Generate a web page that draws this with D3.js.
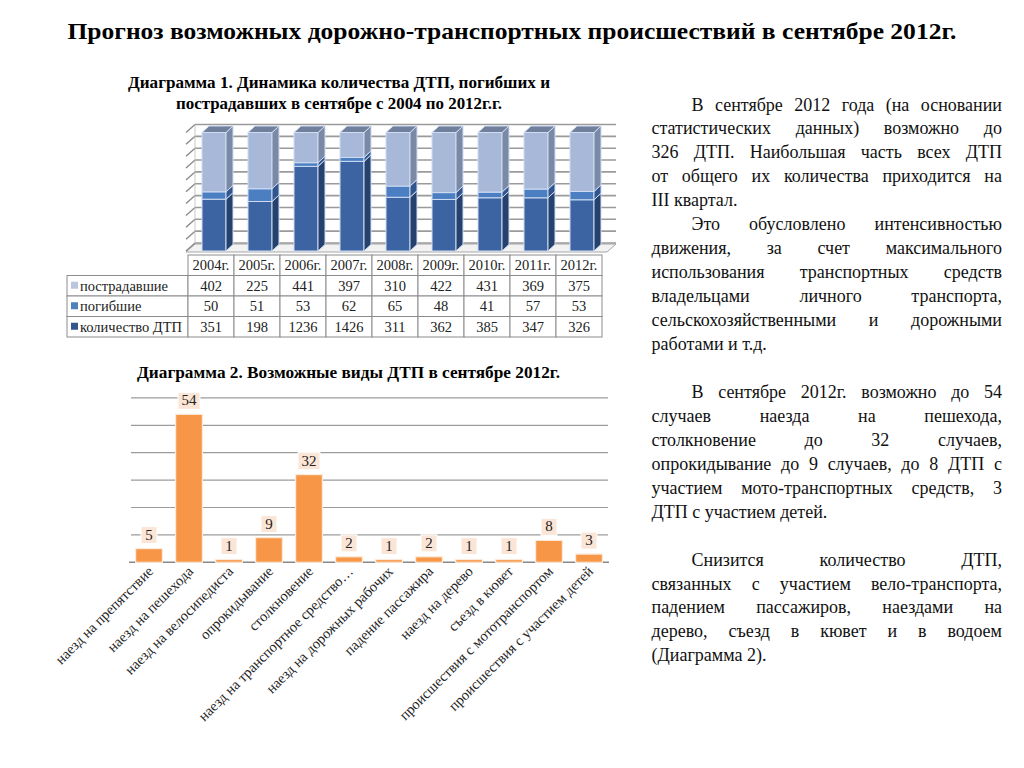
<!DOCTYPE html>
<html><head><meta charset="utf-8">
<script src="https://cdn.jsdelivr.net/npm/d3@7"></script>
</head><body style="margin:0;background:#fff">
<svg id="c" width="1024" height="768" style="display:block"></svg>
<script>
// ---------- data ----------
const mainTitle = "Прогноз возможных дорожно-транспортных происшествий в сентябре 2012г.";
const chart1Title = ["Диаграмма 1. Динамика количества  ДТП, погибших и", "пострадавших в сентябре с 2004 по 2012г.г."];
const years = ["2004г.","2005г.","2006г.","2007г.","2008г.","2009г.","2010г.","2011г.","2012г."];
const injured = [402,225,441,397,310,422,431,369,375];
const killed = [50,51,53,62,65,48,41,57,53];
const accidents = [351,198,1236,1426,311,362,385,347,326];
const seriesNames = ["пострадавшие","погибшие","количество ДТП"];

const chart2Title = "Диаграмма 2.  Возможные виды ДТП в сентябре 2012г.";
const types = ["наезд на препятствие","наезд на пешехода","наезд на велосипедиста","опрокидывание","столкновение","наезд на транспортное средство…","наезд на дорожных рабочих","падение пассажира","наезд на дерево","съезд в кювет","происшествия с мототранспортом","происшествия с участием детей"];
const typeValues = [5,54,1,9,32,2,1,2,1,1,8,3];
const yTicks2 = [0,10,20,30,40,50,60];

const paragraphs = [
  ["В сентябре 2012 года (на основании","статистических данных) возможно до","326 ДТП. Наибольшая часть всех ДТП","от общего их количества приходится на","III квартал."],
  ["Это обусловлено интенсивностью","движения, за счет максимального","использования транспортных средств","владельцами личного транспорта,","сельскохозяйственными и дорожными","работами и т.д."],
  null,
  ["В сентябре 2012г. возможно до 54","случаев наезда на пешехода,","столкновение до 32 случаев,","опрокидывание до 9 случаев, до 8 ДТП с","участием мото-транспортных средств, 3","ДТП с участием детей."],
  null,
  ["Снизится количество ДТП,","связанных с участием вело-транспорта,","падением пассажиров, наездами на","дерево, съезд в кювет и в водоем","(Диаграмма 2)."]
];

// ---------- setup ----------
const FONT = "Liberation Serif";
const svg = d3.select("#c").style("font-family", FONT);
const T = sel => sel.style("font-family", FONT);

T(svg.append("text")).attr("x",512).attr("y",39).attr("text-anchor","middle")
  .attr("font-size",24).attr("font-weight","bold").attr("textLength",889).attr("lengthAdjust","spacingAndGlyphs")
  .text(mainTitle);

// ---------- Chart 1 ----------
const g1 = svg.append("g");
T(g1.selectAll("text.t1").data(chart1Title).join("text"))
  .attr("x",339).attr("y",(d,i)=>88+i*21).attr("text-anchor","middle")
  .attr("font-size",16).attr("font-weight","bold")
  .attr("textLength",(d,i)=>i===0?422:326).attr("lengthAdjust","spacingAndGlyphs")
  .text(d=>d);

const x1 = d3.scaleBand().domain(years).range([188,602]);
const y1 = d3.scaleLinear().domain([0,1]).range([251,132.5]);
const wdx = 9, wdy = -8;      // wall depth
const bdx = 7, bdy = -6.5;    // bar depth
const wallL = 186, wallR = 607;

g1.append("path").attr("d",`M${wallL},${y1(0)+1}L${wallR},${y1(0)+1}L${wallR+wdx},${y1(0)+1+wdy}L${wallL+wdx},${y1(0)+1+wdy}Z`)
  .attr("fill","#f2f2f2").attr("stroke","#a6a6a6").attr("stroke-width",1);
const gridT = d3.range(0,1.0001,0.1);
g1.selectAll("line.bg").data(gridT).join("line")
  .attr("x1",wallL+wdx).attr("x2",wallR+wdx)
  .attr("y1",d=>y1(d)+wdy).attr("y2",d=>y1(d)+wdy)
  .attr("stroke","#9a9a9a").attr("stroke-width",1.6);
g1.selectAll("line.sw").data(gridT).join("line")
  .attr("x1",wallL).attr("x2",wallL+wdx)
  .attr("y1",d=>y1(d)).attr("y2",d=>y1(d)+wdy)
  .attr("stroke","#8a8a8a").attr("stroke-width",1.4);
g1.append("line").attr("x1",wallL+wdx).attr("x2",wallL+wdx).attr("y1",y1(1)+wdy).attr("y2",y1(0)+wdy)
  .attr("stroke","#bbb").attr("stroke-width",0.8);

const front = ["#3c64a2","#4b7fc2","#a7b8d9"];
const side  = ["#25416e","#30558f","#7a89a6"];
const topC  = "#6f7f9c";
const stackData = years.map((yr,i)=>{
  const vals=[accidents[i],killed[i],injured[i]];
  const tot=d3.sum(vals); let c=0;
  return {yr, segs: vals.map((v,k)=>{const s={k,y0:c/tot,y1:(c+v)/tot}; c+=v; return s;})};
});
const bars = g1.selectAll("g.bar").data(stackData).join("g");
bars.each(function(d){
  const g=d3.select(this);
  const bx0 = x1(d.yr)+14, bx1 = bx0+24;
  d.segs.forEach(s=>{
    const yb=y1(s.y0), yt=y1(s.y1);
    g.append("rect").attr("x",bx0).attr("y",yt).attr("width",bx1-bx0).attr("height",yb-yt)
      .attr("fill",front[s.k]).attr("stroke","#cfdcf1").attr("stroke-width",1);
    g.append("path").attr("d",`M${bx1},${yb}L${bx1+bdx},${yb+bdy}L${bx1+bdx},${yt+bdy}L${bx1},${yt}Z`)
      .attr("fill",side[s.k]).attr("stroke","#cfdcf1").attr("stroke-width",1);
  });
  const yt=y1(1);
  g.append("path").attr("d",`M${bx0},${yt}L${bx1},${yt}L${bx1+bdx},${yt+bdy}L${bx0+bdx},${yt+bdy}Z`)
    .attr("fill",topC).attr("stroke","#cfdcf1").attr("stroke-width",1);
});

// table
const tTop = 255, rh = 20.5, labL = 67;
const tg = g1.append("g");
const rowsData = [injured, killed, accidents];
const legendCol = ["#b9c6e0","#4f81bd","#34568c"];
years.forEach(yr=>{
  tg.append("rect").attr("x",x1(yr)).attr("y",tTop).attr("width",x1.bandwidth()).attr("height",rh)
    .attr("fill","#fff").attr("stroke","#8c8c8c").attr("stroke-width",1);
  T(tg.append("text")).attr("x",x1(yr)+x1.bandwidth()/2).attr("y",tTop+rh-5.5).attr("text-anchor","middle")
    .attr("font-size",14.5).attr("fill","#222").text(yr);
});
rowsData.forEach((arr,r)=>{
  const ry = tTop+rh*(r+1);
  tg.append("rect").attr("x",labL).attr("y",ry).attr("width",x1.range()[0]-labL).attr("height",rh)
    .attr("fill","#fff").attr("stroke","#8c8c8c");
  tg.append("rect").attr("x",labL+4).attr("y",ry+rh/2-4).attr("width",7).attr("height",7).attr("fill",legendCol[r]);
  T(tg.append("text")).attr("x",labL+13).attr("y",ry+rh-5.5).attr("font-size",14.5).attr("fill","#222").text(seriesNames[r]);
  years.forEach((yr,i)=>{
    tg.append("rect").attr("x",x1(yr)).attr("y",ry).attr("width",x1.bandwidth()).attr("height",rh)
      .attr("fill","#fff").attr("stroke","#8c8c8c");
    T(tg.append("text")).attr("x",x1(yr)+x1.bandwidth()/2).attr("y",ry+rh-5.5).attr("text-anchor","middle")
      .attr("font-size",14.5).attr("fill","#222").text(arr[i]);
  });
});

// ---------- Chart 2 ----------
const g2 = svg.append("g");
T(g2.append("text")).attr("x",137).attr("y",378).attr("font-size",16).attr("font-weight","bold")
  .attr("textLength",423).attr("lengthAdjust","spacingAndGlyphs").text(chart2Title);
const x2 = d3.scaleBand().domain(types).range([129,609]).paddingInner(0.33).paddingOuter(0.165);
const y2 = d3.scaleLinear().domain([0,60]).range([562.3,397.9]);
g2.selectAll("line.g2").data(yTicks2.slice(1)).join("line")
  .attr("x1",131).attr("x2",608).attr("y1",d=>y2(d)).attr("y2",d=>y2(d))
  .attr("stroke","#9c9c9c").attr("stroke-width",1.2);
g2.append("line").attr("x1",129).attr("x2",609).attr("y1",y2(0)).attr("y2",y2(0))
  .attr("stroke","#888").attr("stroke-width",1.5);
g2.selectAll("rect.b2").data(typeValues).join("rect")
  .attr("x",(d,i)=>x2(types[i])).attr("width",x2.bandwidth())
  .attr("y",d=>y2(d)).attr("height",d=>y2(0)-y2(d))
  .attr("fill","#f79646").attr("stroke","#fde9d9").attr("stroke-width",1.2);
typeValues.forEach((v,i)=>{
  const cx = x2(types[i])+x2.bandwidth()/2;
  const bw = String(v).length===1?16:22;
  const bb = y2(v)-5;
  g2.append("rect").attr("x",cx-bw/2).attr("y",bb-17).attr("width",bw).attr("height",17)
    .attr("fill","#fbe5d6").attr("stroke","#fff").attr("stroke-width",1);
  T(g2.append("text")).attr("x",cx).attr("y",bb-4).attr("text-anchor","middle").attr("font-size",15).attr("fill","#222").text(v);
});
T(g2.selectAll("text.xl").data(types).join("text"))
  .attr("transform",d=>`translate(${x2(d)+x2.bandwidth()/2+5},${y2(0)+10}) rotate(-45)`)
  .attr("text-anchor","end").attr("font-size",14.5).attr("fill","#222").text(d=>d);

// ---------- Right text ----------
const tL = 651.5, tR = 1002, indent = 40, base0 = 110.5, lh = 23.95;
const tgR = svg.append("g").attr("font-size",18).attr("fill","#111");
let lineIdx = 0;
paragraphs.forEach(p=>{
  if(!p){lineIdx++; return;}
  p.forEach((ln,j)=>{
    const x0 = j===0? tL+indent : tL;
    const t = T(tgR.append("text")).attr("x",x0).attr("y",base0+lineIdx*lh).text(ln);
    if(j<p.length-1){
      const w = t.node().getComputedTextLength();
      const gaps = (ln.match(/ /g)||[]).length;
      if(gaps>0){ t.attr("word-spacing",(tR-x0-w)/gaps); }
    }
    lineIdx++;
  });
});
</script>
</body></html>
